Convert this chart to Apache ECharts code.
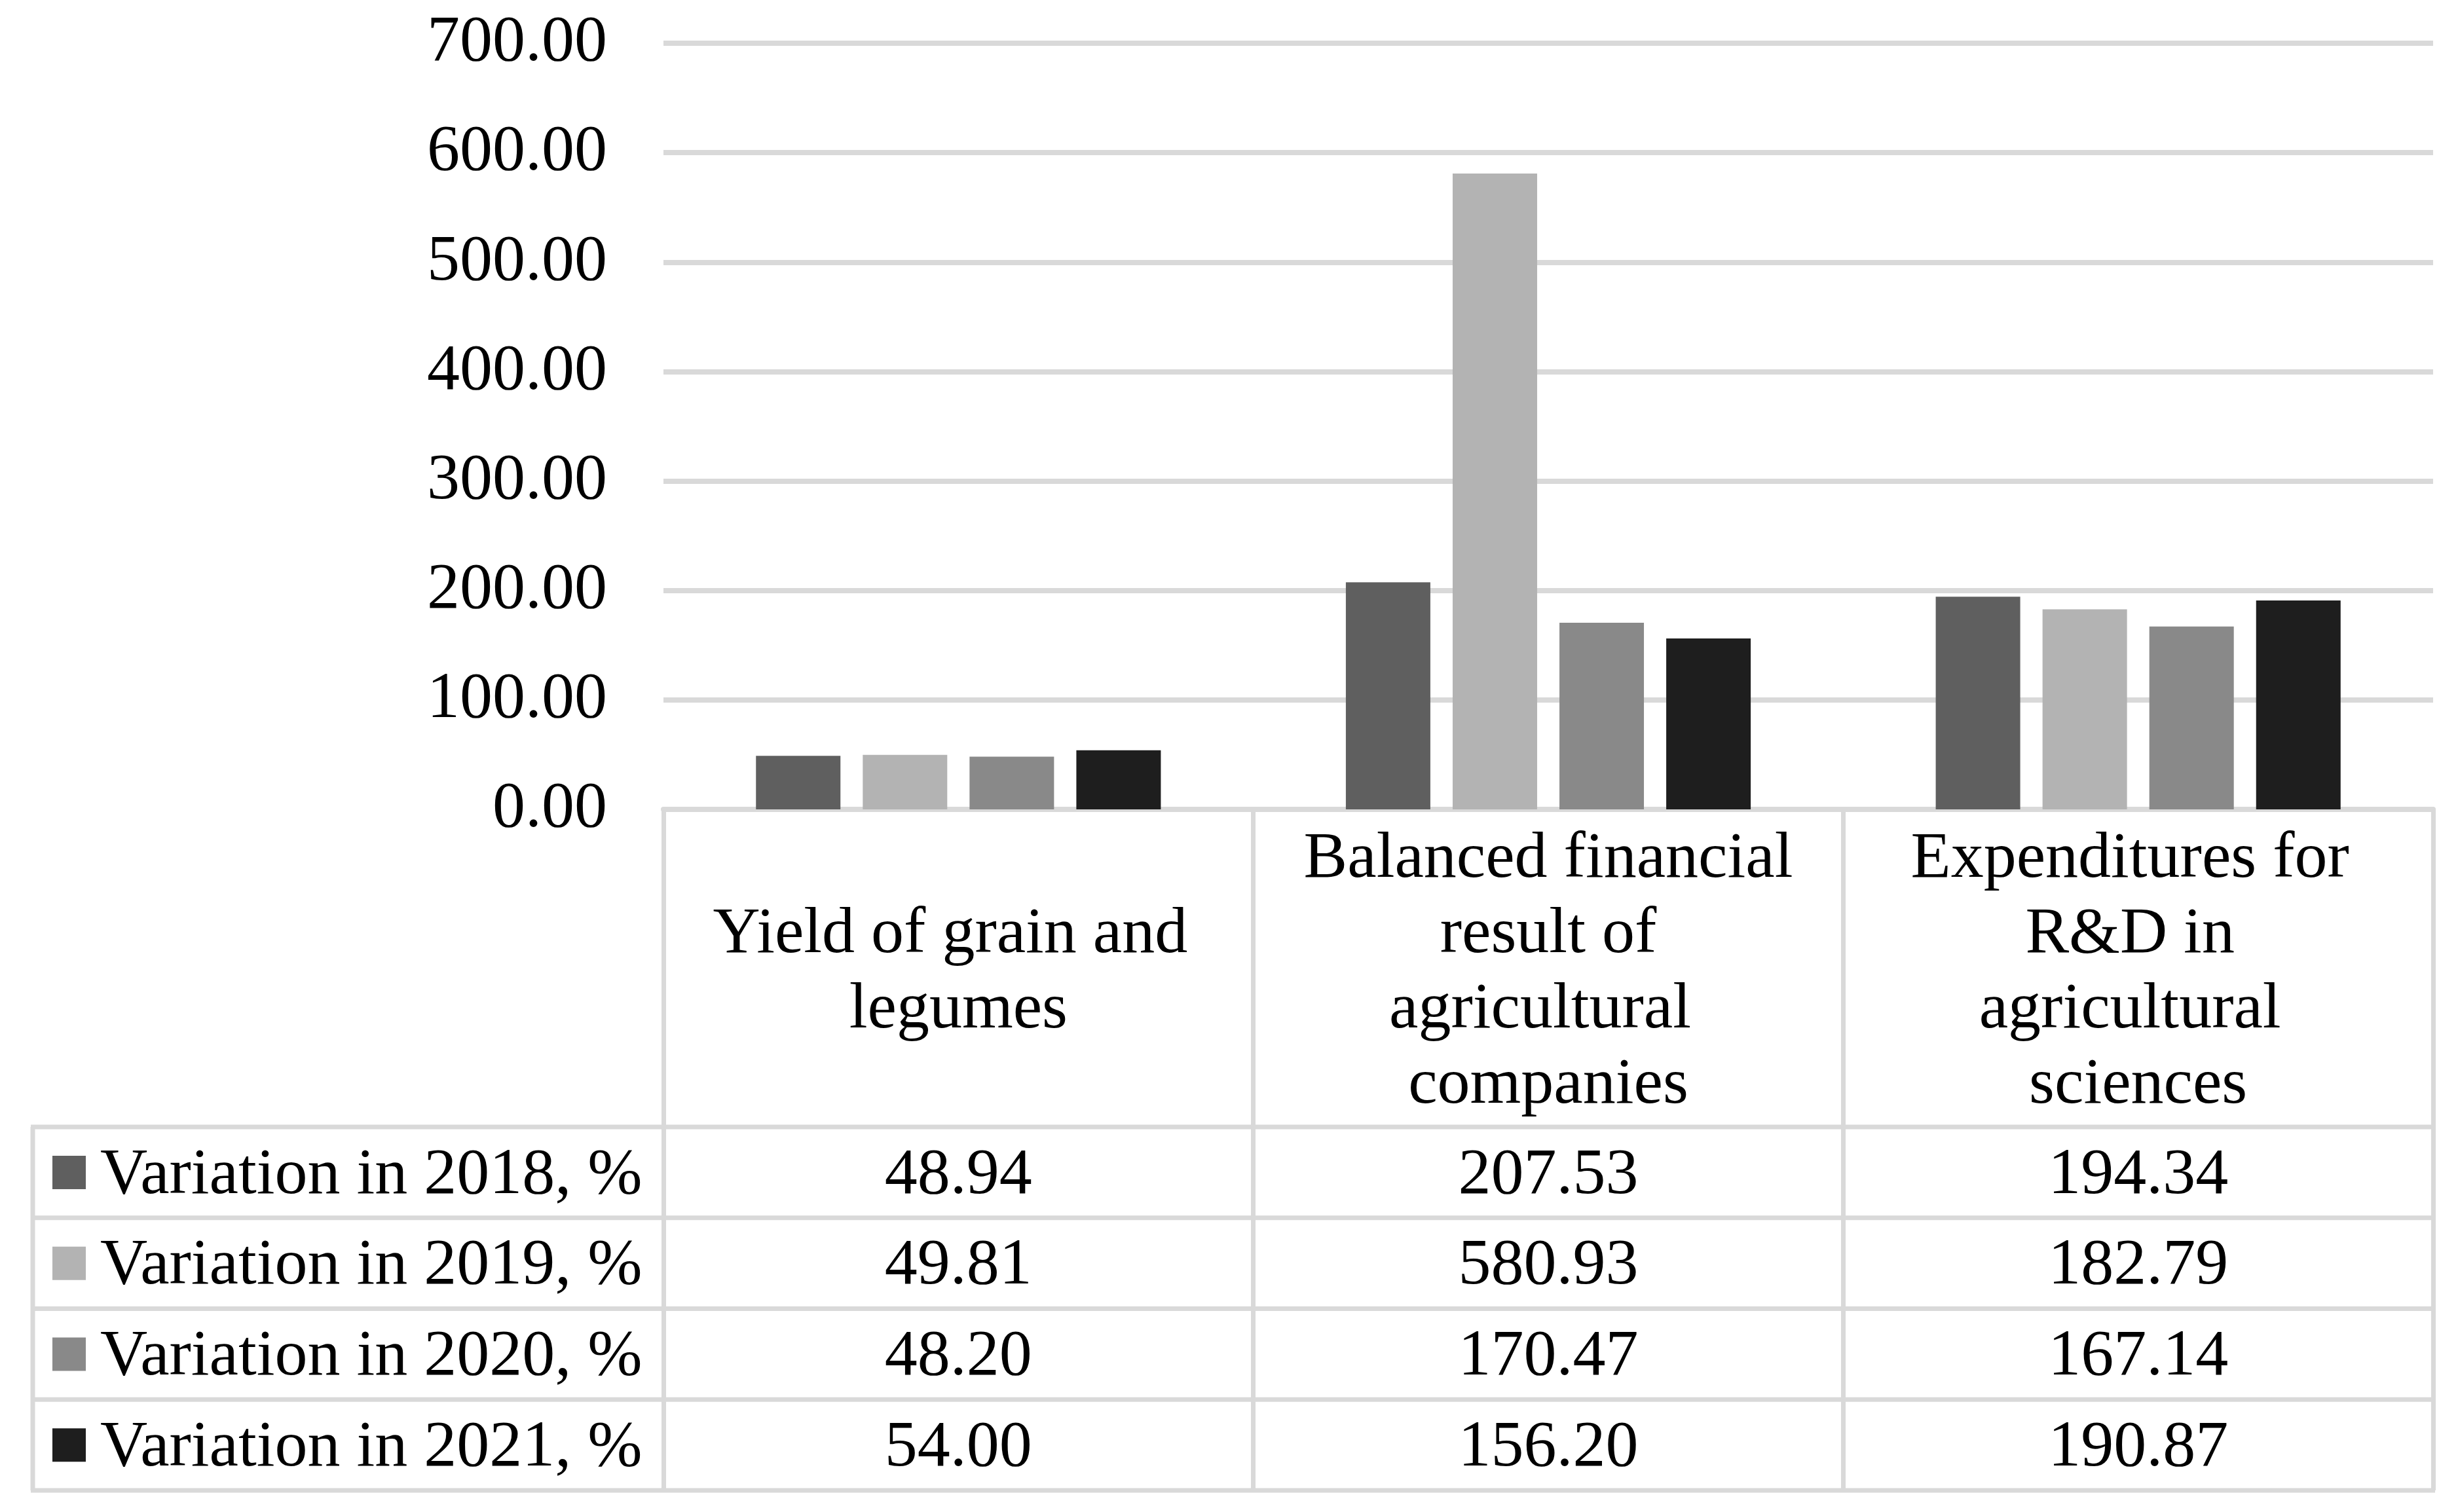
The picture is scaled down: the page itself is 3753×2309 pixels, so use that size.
<!DOCTYPE html>
<html>
<head>
<meta charset="utf-8">
<script src="https://cdn.jsdelivr.net/npm/echarts@6/dist/echarts.min.js"></script>
<style>
html,body{margin:0;padding:0;background:#fff;}
#chart{width:3753px;height:2309px;}
</style>
</head>
<body>
<div id="chart"></div>
<script>
const categories = ['Yield of grain and legumes', 'Balanced financial result of agricultural companies', 'Expenditures for R&D in agricultural sciences'];
const seriesNames = ['Variation in 2018, %', 'Variation in 2019, %', 'Variation in 2020, %', 'Variation in 2021, %'];
const v2018 = [48.94, 207.53, 194.34];
const v2019 = [49.81, 580.93, 182.79];
const v2020 = [48.20, 170.47, 167.14];
const v2021 = [54.00, 156.20, 190.87];
const seriesValues = [v2018, v2019, v2020, v2021];
const colors = ['#5f5f5f', '#b3b3b3', '#898989', '#1e1e1e'];

const FONT = '"Liberation Serif", "Times New Roman", serif';
const W = 3753, H = 2309;
const G = { left: 1013, right: 3715, top: 66, bottom: 1236 };
const TABLE = { left: 50, headerBottom: 1721, rowH: 138.75 };
const LINE = '#d9d9d9';

const chart = echarts.init(document.getElementById('chart'), null, { renderer: 'canvas', width: W, height: H });

const catW = (G.right - G.left) / categories.length;
const graphics = [];
// horizontal row lines
for (let r = 0; r <= seriesNames.length; r++) {
  const y = TABLE.headerBottom + r * TABLE.rowH;
  graphics.push({ type: 'line', silent: true, shape: { x1: TABLE.left - 3, y1: y, x2: G.right + 3, y2: y }, style: { stroke: LINE, lineWidth: 7 } });
}
// left border of legend column
graphics.push({ type: 'line', silent: true, shape: { x1: TABLE.left, y1: TABLE.headerBottom, x2: TABLE.left, y2: TABLE.headerBottom + seriesNames.length * TABLE.rowH }, style: { stroke: LINE, lineWidth: 7 } });
// legend keys + row labels
seriesNames.forEach((name, i) => {
  const cy = TABLE.headerBottom + (i + 0.5) * TABLE.rowH;
  graphics.push({ type: 'rect', silent: true, shape: { x: 80, y: cy - 25.5, width: 51, height: 51 }, style: { fill: colors[i] } });
  graphics.push({
    type: 'text', silent: true,
    style: {
      text: name, x: 153, y: cy + 5,
      textAlign: 'left', textVerticalAlign: 'middle', align: 'left', verticalAlign: 'middle',
      font: '100px ' + FONT, fill: '#000'
    }
  });
});
// value cells
seriesValues.forEach((vals, i) => {
  vals.forEach((v, j) => {
    graphics.push({
      type: 'text', silent: true,
      style: {
        text: v.toFixed(2),
        x: G.left + (j + 0.5) * catW,
        y: TABLE.headerBottom + (i + 0.5) * TABLE.rowH + 5,
        textAlign: 'center', textVerticalAlign: 'middle',
        align: 'center', verticalAlign: 'middle',
        font: '100px ' + FONT, fill: '#000'
      }
    });
  });
});

const option = {
  backgroundColor: '#fff',
  animation: false,
  color: colors,
  grid: { left: G.left, right: W - G.right, top: G.top, bottom: H - G.bottom, containLabel: false, outerBoundsMode: 'none' },
  xAxis: {
    type: 'category',
    data: categories,
    axisLine: { show: true, lineStyle: { color: LINE, width: 8 } },
    axisTick: { show: true, alignWithLabel: false, length: TABLE.headerBottom + seriesNames.length * TABLE.rowH - G.bottom, lineStyle: { color: LINE, width: 7 } },
    axisLabel: {
      interval: 0,
      width: 760,
      overflow: 'break',
      fontSize: 100,
      lineHeight: 115,
      fontFamily: FONT,
      color: '#000',
      align: 'center',
      verticalAlign: 'middle',
      margin: (TABLE.headerBottom - G.bottom) / 2 + 7
    },
    splitLine: { show: false }
  },
  yAxis: {
    type: 'value',
    min: 0, max: 700, interval: 100,
    axisLine: { show: false },
    axisTick: { show: false },
    axisLabel: { fontSize: 100, fontFamily: FONT, color: '#000', margin: 86, formatter: v => v.toFixed(2) },
    splitLine: { show: true, lineStyle: { color: LINE, width: 8 } }
  },
  series: seriesNames.map((name, i) => ({
    name: name,
    type: 'bar',
    data: seriesValues[i],
    barWidth: 129,
    barGap: '26.4%',
    itemStyle: { color: colors[i] }
  })),
  graphic: graphics
};
chart.setOption(option);
</script>
</body>
</html>
